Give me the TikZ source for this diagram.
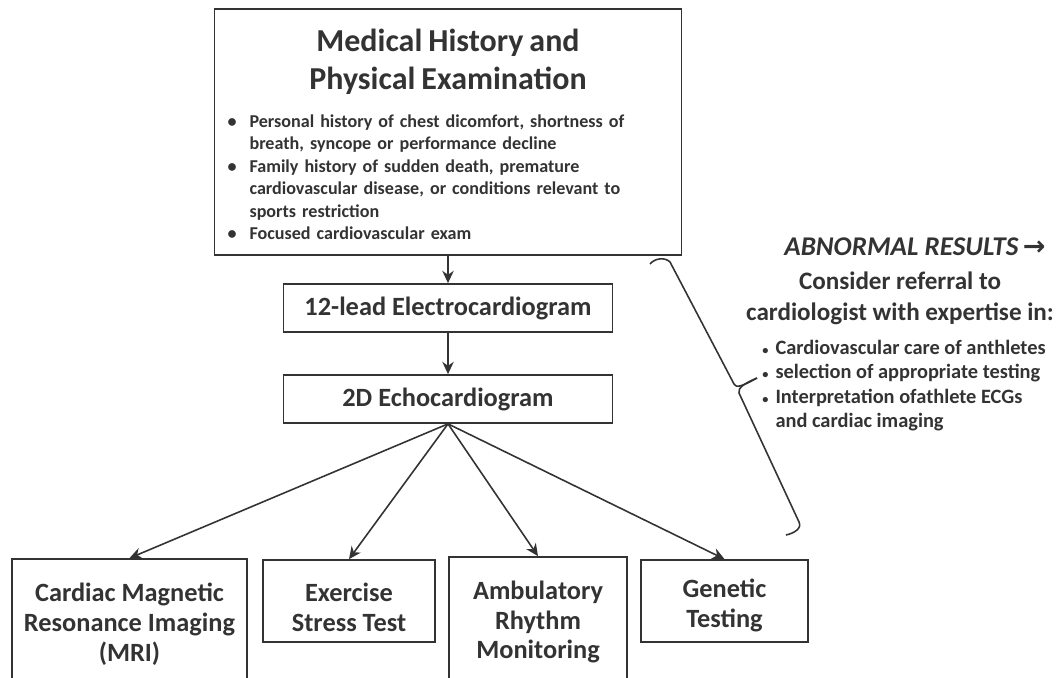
\documentclass[tikz,border=0pt]{standalone}
\usepackage{fontspec}
\setmainfont{Carlito}
\newfontfamily\arrowfont{DejaVu Sans}
\usepackage{tikz}
\usetikzlibrary{arrows.meta}
\definecolor{FlowInk}{HTML}{333333}
\tikzset{
  stepbox/.style={draw=FlowInk, line width=1pt, inner sep=0pt, align=center, font=\fontsize{15}{17}\selectfont\bfseries},
  flow/.style={-{Stealth[length=7pt,width=6.5pt]}, line width=0.9pt, draw=FlowInk},
}
\begin{document}
\begin{tikzpicture}[x=0.02cm,y=-0.02cm,text=FlowInk]
\useasboundingbox (0,0) rectangle (1057,678);
% screening steps
\node[stepbox, inner xsep=0.26cm, text width=8.82cm, minimum height=4.92cm, font=\fontsize{10.3}{12.85}\selectfont\bfseries] (mh) at (448,132) {%
  {\fontsize{18.2}{21}\selectfont\rule{0pt}{19.3pt}Medical History and\\[5pt]Physical Examination}\\[8.7pt]
  \begin{tabular}[t]{@{}p{0.44cm}@{}p{8.38cm}@{}}
  \textbullet & Personal history of chest dicomfort, shortness of\\
   & breath, syncope or performance decline\\
  \textbullet & Family history of sudden death, premature\\
   & cardiovascular disease, or conditions relevant to\\
   & sports restriction\\
  \textbullet & Focused cardiovascular exam
  \end{tabular}};
\node[stepbox, minimum width=6.58cm, minimum height=0.96cm] (ecg) at (448,308) {12-lead Electrocardiogram};
\node[stepbox, minimum width=6.58cm, minimum height=0.96cm] (echo) at (448,399) {2D Echocardiogram};
% further testing
\node[stepbox, minimum width=4.7cm, minimum height=2.6cm] (cmr) at (129.5,624) {Cardiac Magnetic\\Resonance Imaging\\(MRI)};
\node[stepbox, minimum width=3.44cm, minimum height=1.64cm] (stress) at (349,601) {\rule{0pt}{17.6pt}Exercise\\Stress Test};
\node[stepbox, minimum width=3.56cm, minimum height=2.6cm] (holter) at (538,622) {Ambulatory\\Rhythm\\Monitoring};
\node[stepbox, minimum width=3.34cm, minimum height=1.64cm] (genetic) at (724.5,601) {\rule{0pt}{15.6pt}Genetic\\Testing};
\draw[flow] (mh) -- (ecg);
\draw[flow] (ecg) -- (echo);
\foreach \t in {cmr,stress,holter,genetic}
  \draw[flow] (echo.south) -- (\t.north);
% referral note
\coordinate (bracetop) at (650,264);
\coordinate (bracetip) at (757,378);
\coordinate (bracebot) at (786,535);
\draw[FlowInk, line width=0.9pt] (bracetop) .. controls (655,258) and (665,257) .. (670,262) -- (734,384) .. controls (736,388) and (741,387) .. (bracetip);
\draw[FlowInk, line width=0.9pt] (bracetip) .. controls (743,384) and (738,388) .. (739,393) -- (799,522) .. controls (802,528) and (795,533) .. (bracebot);
\node[font=\fontsize{15.4}{17}\selectfont\bfseries\itshape, anchor=base] (abn) at (915,256) {ABNORMAL RESULTS\,{\arrowfont\bfseries →}};
\node[font=\fontsize{14.3}{17.6}\selectfont\bfseries, align=center] (referral) at (900,298) {Consider referral to\\cardiologist with expertise in:};
\node[font=\fontsize{11.6}{14}\selectfont\bfseries, anchor=west, inner sep=0pt] (expertise) at (762,386) {%
  \begin{tabular}{@{}l@{\hspace{4pt}}l@{}}
  {\scriptsize\textbullet} & Cardiovascular care of anthletes\\
  {\scriptsize\textbullet} & selection of appropriate testing\\
  {\scriptsize\textbullet} & Interpretation ofathlete ECGs\\
   & and cardiac imaging
  \end{tabular}};
\end{tikzpicture}
\end{document}
